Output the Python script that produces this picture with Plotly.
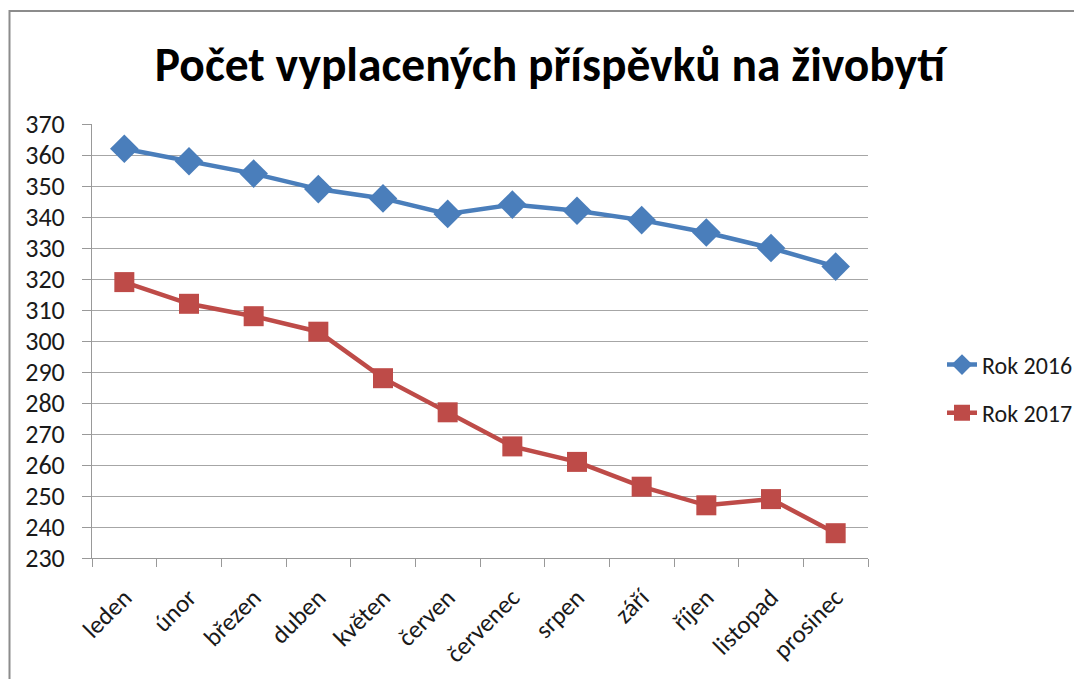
import plotly.graph_objects as go

months = ["leden", "únor", "březen", "duben", "květen", "červen",
          "červenec", "srpen", "září", "říjen", "listopad", "prosinec"]
rok_2016 = [362, 358, 354, 349, 346, 341, 344, 342, 339, 335, 330, 324]
rok_2017 = [319, 312, 308, 303, 288, 277, 266, 261, 253, 247, 249, 238]
y_ticks = list(range(230, 371, 10))

FONT = "Carlito, Calibri, Lato, sans-serif"

fig = go.Figure()
fig.add_trace(go.Scatter(
    x=months, y=rok_2016, name="Rok 2016", mode="lines+markers",
    line=dict(color="#4A7EBB", width=4.5),
    marker=dict(symbol="diamond", size=22, color="#4A7EBB"),
    legendgroup="a",
))
fig.add_trace(go.Scatter(
    x=months, y=rok_2017, name="Rok 2017", mode="lines+markers",
    line=dict(color="#BE4B48", width=4.5),
    marker=dict(symbol="square", size=20, color="#BE4B48"),
    legendgroup="b",
))

# page has an 8px body margin; figure coordinates below are page - 8
L, T = 84, 116
W, H = 1082, 679
pw, ph = 776, 434
R, B = W - L - pw, H - T - ph

fig.update_layout(
    width=W, height=H,
    margin=dict(l=L, r=R, t=T, b=B, autoexpand=False),
    paper_bgcolor="white", plot_bgcolor="white",
    font=dict(family=FONT, color="#1a1a1a", size=25),
    title=dict(text="<b>Počet vyplacených příspěvků na živobytí</b>",
               x=(550 - 8) / W, xref="container", xanchor="center",
               y=1 - 56 / H, yref="container", yanchor="middle",
               font=dict(size=47.5, family=FONT, color="#000000")),
    legend=dict(x=(934 - L) / pw, xanchor="left", y=1 - (381 - T) / ph, yanchor="middle",
                font=dict(size=24, family=FONT, color="#1a1a1a"), tracegroupgap=14,
                bgcolor="rgba(0,0,0,0)"),
    xaxis=dict(
        type="category", tickangle=-45, tickson="boundaries",
        ticks="outside", ticklen=8, tickcolor="#999999",
        showline=True, linecolor="#999999", linewidth=1,
        showgrid=False, tickfont=dict(size=25), range=[-0.5, 11.5],
        ticklabelstandoff=14,
    ),
    yaxis=dict(
        range=[230, 370], tickvals=y_ticks, ticks="outside", ticklen=9,
        tickcolor="#999999", showline=True, linecolor="#999999", linewidth=1,
        showgrid=True, gridcolor="#A6A6A6", gridwidth=1, zeroline=False,
        tickfont=dict(size=26), ticklabelstandoff=12,
    ),
    shapes=[dict(type="rect", xref="paper", yref="paper",
                 x0=(1.5 - L) / pw, x1=(W + 20 - L) / pw,
                 y0=-(B + 20) / ph, y1=1 + (T - 3) / ph,
                 line=dict(color="#8C8C8C", width=2), layer="below")],
)

fig.write_html("out.html", config={"displayModeBar": False})
